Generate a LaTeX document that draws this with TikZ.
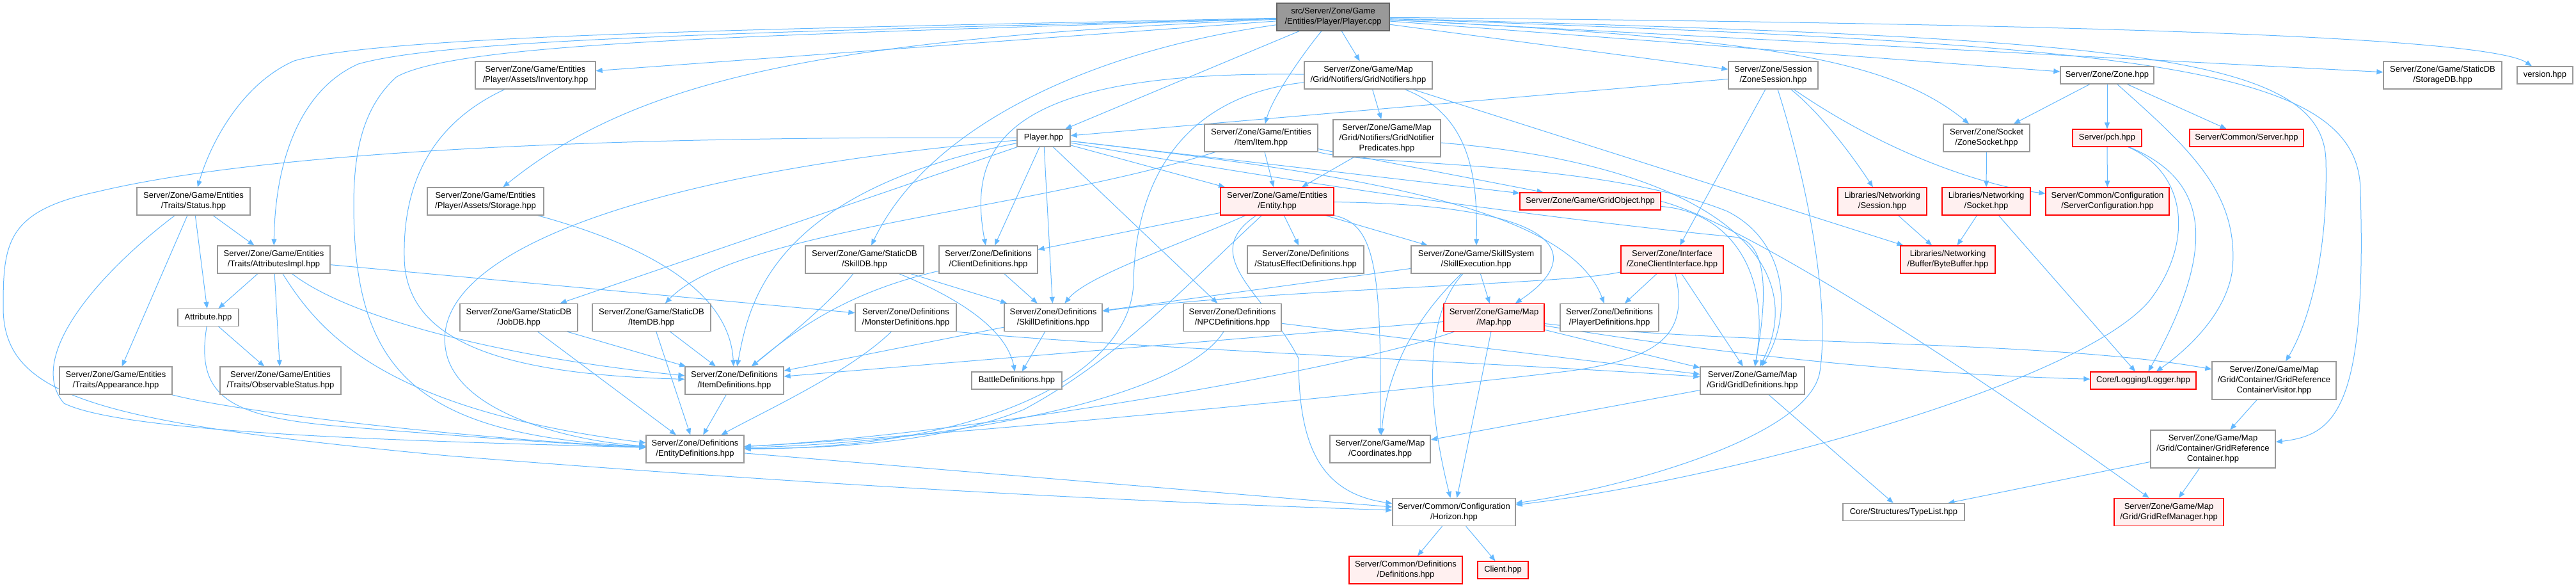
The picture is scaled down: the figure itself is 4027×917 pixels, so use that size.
\documentclass[tikz,border=0pt]{standalone}
\usepackage{fontspec}
\setmainfont{Liberation Sans}
\usetikzlibrary{arrows.meta,backgrounds}
\definecolor{edgeblue}{HTML}{63B8FF}
\definecolor{boxgray}{HTML}{999999}
\definecolor{rootline}{HTML}{666666}
\definecolor{redfill}{HTML}{FFF0F0}
\begin{document}
\begin{tikzpicture}[x=1pt, y=-1pt, font=\fontsize{13}{16}\selectfont,
  incbox/.style={draw=boxgray, fill=white, line width=1.3pt, inner sep=1pt, align=center},
  redbox/.style={incbox, draw=red, fill=redfill},
  rootbox/.style={incbox, draw=rootline, fill=boxgray},
  dep/.style={draw=edgeblue, line width=1pt, -{Triangle[length=10pt,width=8pt]}}]
\useasboundingbox (0,0) rectangle (4027,917);
% Root file
\node[rootbox, minimum width=176pt, minimum height=43pt] (pcpp) at (2084,26.5) {src/Server/Zone/Game\\/Entities/Player/Player.cpp};
% Row 1
\node[incbox, minimum width=188pt, minimum height=43pt] (inv) at (837,117.5) {Server/Zone/Game/Entities\\/Player/Assets/Inventory.hpp};
\node[incbox, minimum width=200pt, minimum height=43pt] (gnot) at (2139,117.5) {Server/Zone/Game/Map\\/Grid/Notifiers/GridNotifiers.hpp};
\node[incbox, minimum width=140pt, minimum height=43pt] (zsess) at (2772,117.5) {Server/Zone/Session\\/ZoneSession.hpp};
\node[incbox, minimum width=146pt, minimum height=27pt] (zone) at (3294,117.5) {Server/Zone/Zone.hpp};
\node[incbox, minimum width=185pt, minimum height=43pt] (sdb) at (3818.5,117.5) {Server/Zone/Game/StaticDB\\/StorageDB.hpp};
\node[incbox, minimum width=87pt, minimum height=27pt] (ver) at (3978.5,117.5) {version.hpp};
% Row 2
\node[incbox, minimum width=83pt, minimum height=27pt] (phpp) at (1631.5,215.5) {Player.hpp};
\node[incbox, minimum width=177pt, minimum height=43pt] (item) at (1971.5,215.5) {Server/Zone/Game/Entities\\/Item/Item.hpp};
\node[incbox, minimum width=168pt, minimum height=58pt] (gpred) at (2168,216) {Server/Zone/Game/Map\\/Grid/Notifiers/GridNotifier\\Predicates.hpp};
\node[incbox, minimum width=135pt, minimum height=43pt] (zsock) at (3105.5,215.5) {Server/Zone/Socket\\/ZoneSocket.hpp};
\node[redbox, minimum width=108pt, minimum height=27pt] (pch) at (3294,215.5) {Server/pch.hpp};
\node[redbox, minimum width=178pt, minimum height=27pt] (srv) at (3512,215.5) {Server/Common/Server.hpp};
% Row 3
\node[incbox, minimum width=177pt, minimum height=43pt] (status) at (302.5,314.5) {Server/Zone/Game/Entities\\/Traits/Status.hpp};
\node[incbox, minimum width=182pt, minimum height=43pt] (storage) at (759,314.5) {Server/Zone/Game/Entities\\/Player/Assets/Storage.hpp};
\node[redbox, minimum width=177pt, minimum height=43pt] (entity) at (1996.5,314.5) {Server/Zone/Game/Entities\\/Entity.hpp};
\node[redbox, minimum width=220pt, minimum height=27pt] (gobj) at (2486,314.5) {Server/Zone/Game/GridObject.hpp};
\node[redbox, minimum width=139pt, minimum height=43pt] (sess) at (2942.5,314.5) {Libraries/Networking\\/Session.hpp};
\node[redbox, minimum width=138pt, minimum height=43pt] (sock) at (3105,314.5) {Libraries/Networking\\/Socket.hpp};
\node[redbox, minimum width=193pt, minimum height=43pt] (scfg) at (3294.5,314.5) {Server/Common/Configuration\\/ServerConfiguration.hpp};
% Row 4
\node[incbox, minimum width=176pt, minimum height=43pt] (attrimpl) at (428,405.5) {Server/Zone/Game/Entities\\/Traits/AttributesImpl.hpp};
\node[incbox, minimum width=185pt, minimum height=43pt] (skdb) at (1351.5,405.5) {Server/Zone/Game/StaticDB\\/SkillDB.hpp};
\node[incbox, minimum width=154pt, minimum height=43pt] (cdef) at (1545,405.5) {Server/Zone/Definitions\\/ClientDefinitions.hpp};
\node[incbox, minimum width=182pt, minimum height=43pt] (sedef) at (2041,405.5) {Server/Zone/Definitions\\/StatusEffectDefinitions.hpp};
\node[incbox, minimum width=203pt, minimum height=43pt] (skex) at (2307.5,405.5) {Server/Zone/Game/SkillSystem\\/SkillExecution.hpp};
\node[redbox, minimum width=160pt, minimum height=43pt] (zci) at (2614,405.5) {Server/Zone/Interface\\/ZoneClientInterface.hpp};
\node[redbox, minimum width=148pt, minimum height=43pt] (bbuf) at (3045,405.5) {Libraries/Networking\\/Buffer/ByteBuffer.hpp};
% Row 5
\node[incbox, minimum width=95pt, minimum height=27pt] (attr) at (325.5,496) {Attribute.hpp};
\node[incbox, minimum width=184pt, minimum height=43pt] (jobdb) at (811,496) {Server/Zone/Game/StaticDB\\/JobDB.hpp};
\node[incbox, minimum width=185pt, minimum height=43pt] (itemdb) at (1018.5,496) {Server/Zone/Game/StaticDB\\/ItemDB.hpp};
\node[incbox, minimum width=158pt, minimum height=43pt] (mdef) at (1416,496) {Server/Zone/Definitions\\/MonsterDefinitions.hpp};
\node[incbox, minimum width=153pt, minimum height=43pt] (skdef) at (1646.5,496) {Server/Zone/Definitions\\/SkillDefinitions.hpp};
\node[incbox, minimum width=153pt, minimum height=43pt] (npcdef) at (1926.5,496) {Server/Zone/Definitions\\/NPCDefinitions.hpp};
\node[redbox, minimum width=157pt, minimum height=43pt] (map) at (2335.5,496) {Server/Zone/Game/Map\\/Map.hpp};
\node[incbox, minimum width=154pt, minimum height=43pt] (pdef) at (2516,496) {Server/Zone/Definitions\\/PlayerDefinitions.hpp};
% Row 6
\node[incbox, minimum width=176pt, minimum height=43pt] (appear) at (181,594.5) {Server/Zone/Game/Entities\\/Traits/Appearance.hpp};
\node[incbox, minimum width=189pt, minimum height=43pt] (obs) at (438.5,594.5) {Server/Zone/Game/Entities\\/Traits/ObservableStatus.hpp};
\node[incbox, minimum width=154pt, minimum height=43pt] (idef) at (1148,594.5) {Server/Zone/Definitions\\/ItemDefinitions.hpp};
\node[incbox, minimum width=141pt, minimum height=27pt] (bdef) at (1589.5,594.5) {BattleDefinitions.hpp};
\node[incbox, minimum width=163pt, minimum height=43pt] (gdef) at (2739.5,594.5) {Server/Zone/Game/Map\\/Grid/GridDefinitions.hpp};
\node[redbox, minimum width=165pt, minimum height=27pt] (logger) at (3350.5,594.5) {Core/Logging/Logger.hpp};
\node[incbox, minimum width=194pt, minimum height=59pt] (cvis) at (3555,594.5) {Server/Zone/Game/Map\\/Grid/Container/GridReference\\ContainerVisitor.hpp};
% Row 7
\node[incbox, minimum width=153pt, minimum height=43pt] (edef) at (1086.5,701.5) {Server/Zone/Definitions\\/EntityDefinitions.hpp};
\node[incbox, minimum width=157pt, minimum height=43pt] (coord) at (2157.5,701.5) {Server/Zone/Game/Map\\/Coordinates.hpp};
\node[incbox, minimum width=195pt, minimum height=59pt] (gref) at (3459.5,701.5) {Server/Zone/Game/Map\\/Grid/Container/GridReference\\Container.hpp};
% Row 8
\node[incbox, minimum width=192pt, minimum height=43pt] (horizon) at (2273,800) {Server/Common/Configuration\\/Horizon.hpp};
\node[incbox, minimum width=190pt, minimum height=27pt] (tlist) at (2976,800) {Core/Structures/TypeList.hpp};
\node[redbox, minimum width=171pt, minimum height=43pt] (grm) at (3390.5,800) {Server/Zone/Game/Map\\/Grid/GridRefManager.hpp};
% Row 9
\node[redbox, minimum width=177pt, minimum height=43pt] (cdefs) at (2197.5,890.5) {Server/Common/Definitions\\/Definitions.hpp};
\node[redbox, minimum width=79pt, minimum height=27pt] (client) at (2349.5,890.5) {Client.hpp};

\begin{scope}[on background layer]
% Player.cpp
\draw[dep] (pcpp) .. controls (1200,45) and (600,55) .. (460,95) .. controls (380,130) and (330,220) .. (status);
\draw[dep] (pcpp) .. controls (1200,50) and (700,60) .. (560,100) .. controls (470,140) and (430,250) .. (attrimpl);
\draw[dep] (pcpp) .. controls (1200,55) and (720,65) .. (620,120) .. controls (570,165) and (553,230) .. (553,320) .. controls (553,580) and (650,680) .. (edef);
\draw[dep] (pcpp) -- (inv);
\draw[dep] (pcpp) .. controls (1300,60) and (1000,120) .. (storage);
\draw[dep] (pcpp) -- (phpp);
\draw[dep] (pcpp) .. controls (1700,80) and (1450,200) .. (skdb);
\draw[dep] (pcpp) -- (gnot);
\draw[dep] (pcpp) .. controls (2040,80) and (1990,150) .. (item);
\draw[dep] (pcpp) -- (zsess);
\draw[dep] (pcpp) .. controls (2750,60) and (2950,90) .. (zsock);
\draw[dep] (pcpp) -- (zone);
\draw[dep] (pcpp) -- (sdb);
\draw[dep] (pcpp) .. controls (3000,35) and (3880,50) .. (ver);
\draw[dep] (pcpp) .. controls (3300,60) and (3630,80) .. (3636,250) .. controls (3640,420) and (3600,520) .. (cvis);
\draw[dep] (pcpp) .. controls (3350,70) and (3690,100) .. (3690,300) .. controls (3700,640) and (3650,680) .. (gref);
% Player.hpp
\draw[dep] (phpp) .. controls (900,212) and (400,240) .. (150,300) .. controls (10,330) and (5,380) .. (5,480) .. controls (5,620) and (150,660) .. (700,712) .. controls (1300,760) and (1800,785) .. (horizon);
\draw[dep] (phpp) .. controls (1000,270) and (650,400) .. (700,560) .. controls (730,650) and (900,690) .. (edef);
\draw[dep] (phpp) .. controls (1200,300) and (1170,480) .. (idef);
\draw[dep] (phpp) -- (jobdb);
\draw[dep] (phpp) -- (cdef);
\draw[dep] (phpp) -- (skdef);
\draw[dep] (phpp) -- (npcdef);
\draw[dep] (phpp) -- (entity);
\draw[dep] (phpp) -- (gobj);
\draw[dep] (phpp) .. controls (2100,270) and (2450,320) .. (pdef);
\draw[dep] (phpp) .. controls (2100,300) and (2500,350) .. (2710,370) .. controls (2770,376) and (2760,480) .. (gdef);
% Assets
\draw[dep] (inv) .. controls (680,190) and (630,280) .. (632,400) .. controls (632,540) and (800,585) .. (idef);
\draw[dep] (storage) .. controls (1000,380) and (1140,450) .. (idef);
% Traits
\draw[dep] (status) -- (appear);
\draw[dep] (status) -- (attr);
\draw[dep] (status) -- (attrimpl);
\draw[dep] (status) .. controls (150,430) and (40,560) .. (100,630) .. controls (200,680) and (700,690) .. (edef);
\draw[dep] (attrimpl) -- (attr);
\draw[dep] (attrimpl) -- (obs);
\draw[dep] (attrimpl) .. controls (500,520) and (600,640) .. (edef);
\draw[dep] (attrimpl) .. controls (550,500) and (800,560) .. (idef);
\draw[dep] (attrimpl) -- (mdef);
\draw[dep] (attr) -- (obs);
\draw[dep] (attr) .. controls (305,620) and (360,650) .. (520,665) .. controls (700,680) and (900,695) .. (edef);
\draw[dep] (appear) .. controls (400,650) and (800,690) .. (edef);
% Item
\draw[dep] (item) -- (entity);
\draw[dep] (item) -- (gobj);
\draw[dep] (item) .. controls (1600,330) and (1150,360) .. (itemdb);
\draw[dep] (item.south east) .. controls (2150,260) and (2500,250) .. (2700,330) .. controls (2800,380) and (2800,500) .. (gdef);
% Entity
\draw[dep] (entity) -- (sedef);
\draw[dep] (entity) -- (skex);
\draw[dep] (entity) -- (cdef);
\draw[dep] (entity) .. controls (1850,380) and (1700,430) .. (skdef);
\draw[dep] (entity.south east) .. controls (2150,350) and (2160,420) .. (coord);
\draw[dep] (entity) .. controls (2450,320) and (2480,400) .. (map);
\draw[dep] (entity) .. controls (1860,440) and (1750,560) .. (1600,640) .. controls (1450,700) and (1250,700) .. (edef);
\draw[dep] (entity) .. controls (1870,400) and (1980,460) .. (2030,560) .. controls (2030,690) and (2060,770) .. (horizon);
% Grid notifiers
\draw[dep] (gnot) -- (gpred);
\draw[dep] (gnot) .. controls (2300,180) and (2310,280) .. (skex);
\draw[dep] (gnot) .. controls (1580,110) and (1510,220) .. (cdef);
\draw[dep] (gnot) .. controls (1850,150) and (1775,280) .. (1772,440) .. controls (1770,580) and (1550,700) .. (edef);
\draw[dep] (gnot) -- (bbuf);
\draw[dep] (gpred) -- (entity);
\draw[dep] (gpred) .. controls (2700,260) and (2830,420) .. (gdef);
% Session and zone
\draw[dep] (zsess) -- (phpp);
\draw[dep] (zsess) -- (zci);
\draw[dep] (zsess) .. controls (2830,300) and (2860,480) .. (2845,580) .. controls (2830,680) and (2550,760) .. (horizon);
\draw[dep] (zsess) .. controls (2850,180) and (2900,250) .. (sess);
\draw[dep] (zsess) .. controls (2950,240) and (3100,290) .. (scfg);
\draw[dep] (zone) -- (zsock);
\draw[dep] (zone) -- (pch);
\draw[dep] (zone) -- (srv);
\draw[dep] (zone) .. controls (3420,230) and (3500,300) .. (3490,420) .. controls (3480,500) and (3400,560) .. (logger);
\draw[dep] (pch) -- (scfg);
\draw[dep] (pch) .. controls (3450,280) and (3470,380) .. (logger);
\draw[dep] (pch) .. controls (3420,270) and (3430,380) .. (3360,470) .. controls (3250,600) and (2700,750) .. (horizon);
\draw[dep] (zsock) -- (sock);
\draw[dep] (sess) -- (bbuf);
\draw[dep] (sock) -- (bbuf);
\draw[dep] (sock) -- (logger);
% Interface
\draw[dep] (zci) -- (pdef);
\draw[dep] (zci) -- (gdef);
\draw[dep] (zci) .. controls (2450,445) and (2000,450) .. (skdef);
\draw[dep] (zci) .. controls (2640,520) and (2600,560) .. (2450,580) .. controls (2200,610) and (1500,680) .. (edef);
% Skill system
\draw[dep] (skex) -- (skdef);
\draw[dep] (skex) .. controls (2230,480) and (2170,560) .. (coord);
\draw[dep] (skex) .. controls (2220,500) and (2235,650) .. (horizon);
\draw[dep] (skex) -- (map);
% Map
\draw[dep] (map) -- (idef);
\draw[dep] (map) .. controls (2100,580) and (1500,680) .. (edef);
\draw[dep] (map) -- (horizon);
\draw[dep] (map) -- (gdef);
\draw[dep] (map) .. controls (2700,540) and (3200,530) .. (cvis);
\draw[dep] (map) .. controls (2700,555) and (3000,585) .. (logger);
\draw[dep] (gdef) -- (coord);
\draw[dep] (gdef) -- (tlist);
\draw[dep] (gobj) .. controls (2700,330) and (2770,420) .. (gdef);
\draw[dep] (gobj.east) .. controls (2700,340) and (3000,520) .. (grm);
% Definitions
\draw[dep] (mdef) .. controls (1330,580) and (1200,640) .. (edef);
\draw[dep] (mdef.south east) .. controls (1700,540) and (2400,570) .. (gdef);
\draw[dep] (npcdef) .. controls (1850,620) and (1500,690) .. (edef);
\draw[dep] (npcdef) -- (gdef);
\draw[dep] (skdef) -- (bdef);
\draw[dep] (skdef) -- (idef);
\draw[dep] (skdb) -- (skdef);
\draw[dep] (skdb) .. controls (1460,450) and (1570,500) .. (bdef);
\draw[dep] (skdb) .. controls (1300,470) and (1240,520) .. (idef);
\draw[dep] (cdef) -- (skdef);
\draw[dep] (cdef) .. controls (1330,455) and (1250,510) .. (idef);
\draw[dep] (jobdb) -- (idef);
\draw[dep] (jobdb) -- (edef);
\draw[dep] (itemdb) -- (idef);
\draw[dep] (itemdb) -- (edef);
\draw[dep] (idef) -- (edef);
\draw[dep] (edef) -- (horizon);
\draw[dep] (horizon) -- (cdefs);
\draw[dep] (horizon) -- (client);
% Grid containers
\draw[dep] (cvis) -- (gref);
\draw[dep] (gref) -- (tlist);
\draw[dep] (gref) -- (grm);
\end{scope}
\end{tikzpicture}
\end{document}
